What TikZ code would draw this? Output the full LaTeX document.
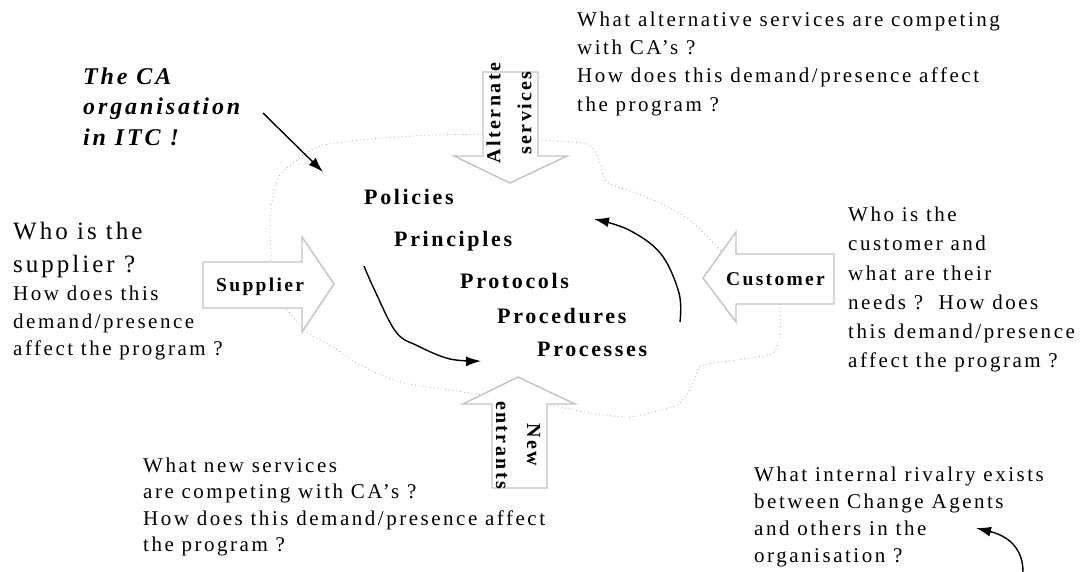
\documentclass[tikz,border=0pt]{standalone}
\usepackage{fontspec}
\setmainfont{Liberation Serif}[LetterSpace=12]
\usetikzlibrary{arrows.meta}
\definecolor{arrowgray}{RGB}{195,195,195}
\definecolor{cloudgray}{RGB}{170,170,170}
\begin{document}
\begin{tikzpicture}[x=1pt,y=-1pt,
  bigarrow/.style={draw=arrowgray, line width=1.4pt, fill=white, line join=miter},
  q/.style={anchor=base west, inner sep=0pt, font=\fontsize{21}{25}\selectfont},
  qbig/.style={anchor=base west, inner sep=0pt, font=\fontsize{25}{30}\selectfont},
  ttl/.style={anchor=base west, inner sep=0pt, font=\fontsize{24}{30}\selectfont\bfseries\itshape},
  core/.style={anchor=base west, inner sep=0pt, font=\fontsize{22}{26}\selectfont\bfseries},
  lab/.style={anchor=base west, inner sep=0pt, font=\fontsize{19.5}{24}\selectfont\bfseries},
  vlab/.style={inner sep=0pt, align=center, font=\fontsize{20}{31}\selectfont\bfseries},
  flow/.style={line width=1.4pt, -{Latex[length=15pt,width=10pt]}}]
\useasboundingbox[fill=white] (0,0) rectangle (1092,572);

% cloud
\draw[cloudgray, line width=0.8pt, dash pattern=on 0.8pt off 3pt]
  plot[smooth cycle, tension=0.5] coordinates {
  (272,262) (270,220) (277,180) (293,163) (317,147) (343,142) (383,138) (433,135)
  (483,135) (540,140) (583,143) (593,148) (600,163) (607,182) (633,192) (660,203)
  (690,220) (718,248) (760,290) (778,303) (780,333) (773,353) (750,358) (703,365)
  (697,372) (690,390) (677,405) (650,413) (627,417) (590,413) (560,407) (520,400)
  (483,395) (450,390) (400,382) (360,365) (333,347) (307,332) (290,313) (280,300)};

% block arrows
\draw[bigarrow] (203,262) -- (302,262) -- (302,237) -- (334,284) -- (302,332) -- (302,308) -- (203,308) -- cycle;
\draw[bigarrow] (834,254) -- (736,254) -- (736,232) -- (703,278) -- (736,322) -- (736,304) -- (834,304) -- cycle;
\draw[bigarrow] (483,72) -- (538,72) -- (538,156) -- (567,156) -- (510,183) -- (454,156) -- (483,156) -- cycle;
\draw[bigarrow] (492,488) -- (492,404) -- (463,404) -- (518,377) -- (575,404) -- (547,404) -- (547,488) -- cycle;

\node[lab] (sup) at (216,291) {Supplier};
\node[lab] (cus) at (726,285) {Customer};
\node[vlab, rotate=90] (alt) at (509,113) {Alternate\\services};
\node[vlab, rotate=-90] (new) at (518,445) {New\\entrants};

% core text
\node[core] (pol) at (364,205) {Policies};
\node[core] (pri) at (394,246) {Principles};
\node[core] (pro) at (460,288) {Protocols};
\node[core] (prd) at (497,323) {Procedures};
\node[core] (prc) at (537,356) {Processes};

% title
\node[ttl] (t1) at (83,85) {The CA};
\node[ttl] (t2) at (83,115) {organisation};
\node[ttl] (t3) at (83,146) {in ITC !};

% top right
\node[q] (a1) at (577,27) {What alternative services are competing};
\node[q] (a2) at (577,55) {with CA’s ?};
\node[q] (a3) at (577,83) {How does this demand/presence affect};
\node[q] (a4) at (577,112) {the program ?};

% left
\node[qbig] (s1) at (13,240) {Who is the};
\node[qbig] (s2) at (13,272) {supplier ?};
\node[q] (s3) at (13,300) {How does this};
\node[q] (s4) at (13,328) {demand/presence};
\node[q] (s5) at (13,355) {affect the program ?};

% right
\node[q] (c1) at (848,222) {Who is the};
\node[q] (c2) at (848,251) {customer and};
\node[q] (c3) at (848,280) {what are their};
\node[q] (c4) at (848,309) {needs ?\ \ How does};
\node[q] (c5) at (848,338) {this demand/presence};
\node[q] (c6) at (848,367) {affect the program ?};

% bottom left
\node[q] (n1) at (143,472) {What new services};
\node[q] (n2) at (143,498) {are competing with CA’s ?};
\node[q] (n3) at (143,525) {How does this demand/presence affect};
\node[q] (n4) at (143,551) {the program ?};

% bottom right
\node[q] (r1) at (754,481) {What internal rivalry exists};
\node[q] (r2) at (754,508) {between Change Agents};
\node[q] (r3) at (754,535) {and others in the};
\node[q] (r4) at (754,562) {organisation ?};

% connectors
\coordinate (tA) at (263,113);
\coordinate (tB) at (323,172);
\draw[flow] (tA) -- (tB);

\draw[flow] plot[smooth, tension=0.6] coordinates {(364,266) (375,291) (396,332) (418,346) (450,359) (481,361)};
\draw[flow] plot[smooth, tension=0.6] coordinates {(680,322) (679,293) (661,254) (629,230) (594,219)};

\coordinate (rA) at (1023,572);
\coordinate (rB) at (976,528);
\draw[flow] (rA) .. controls (1023,548) and (1008,536) .. (rB);
\end{tikzpicture}
\end{document}
